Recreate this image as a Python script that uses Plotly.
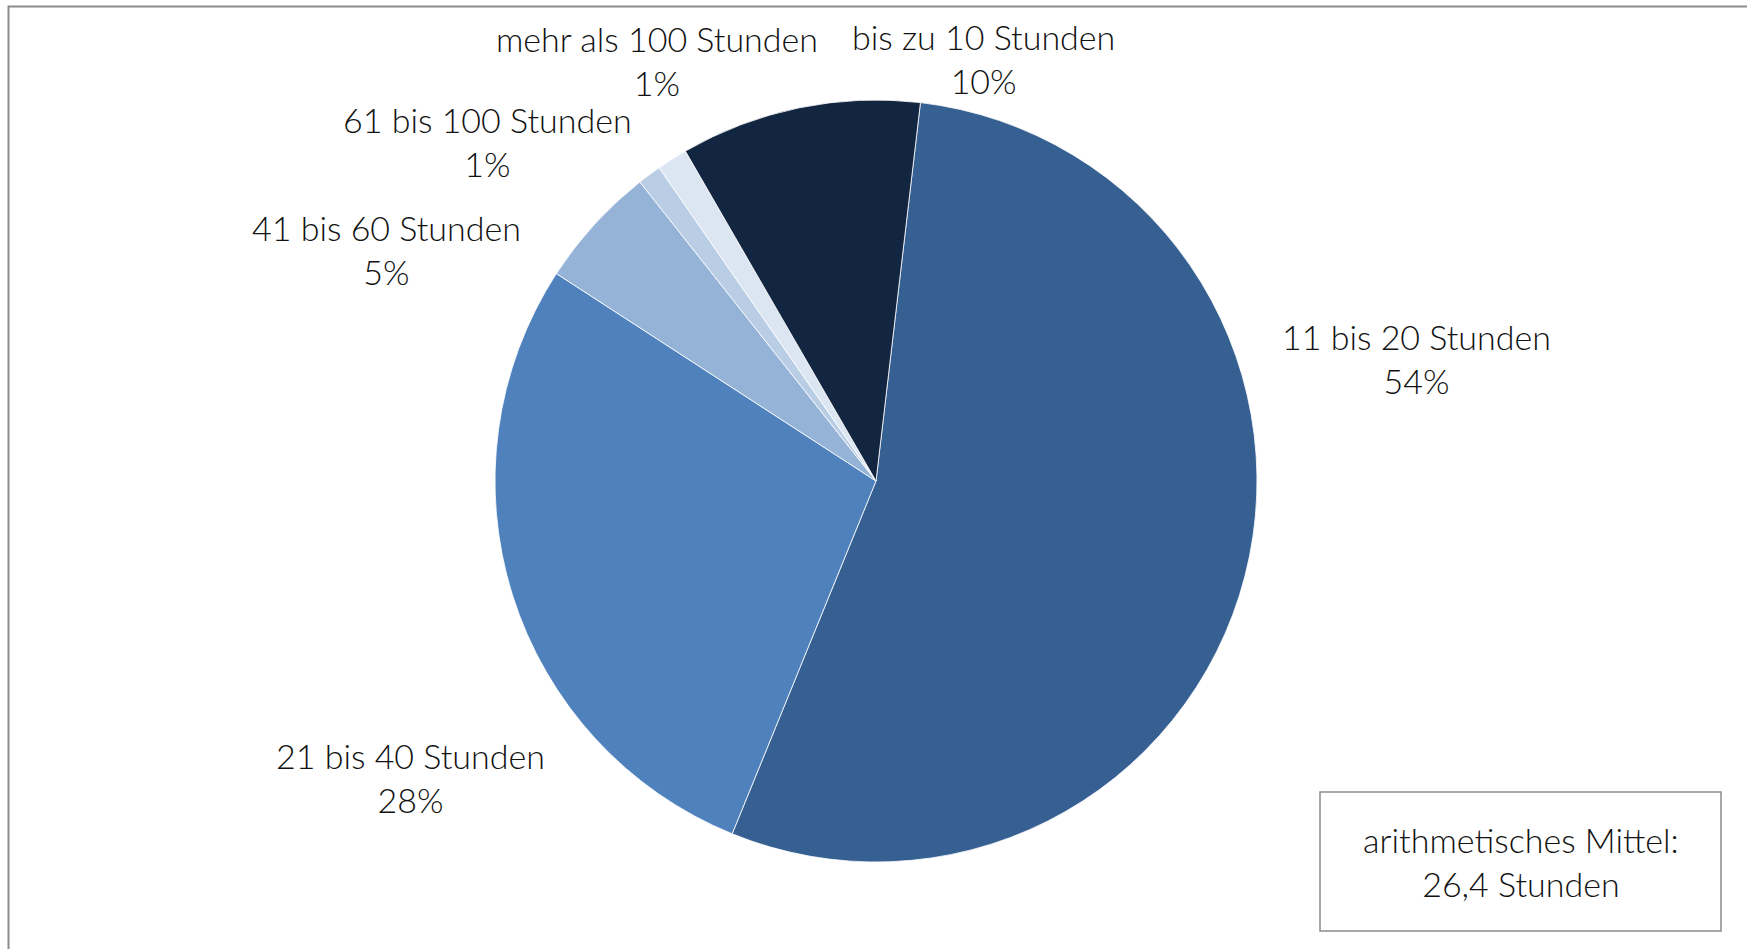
import plotly.graph_objects as go

# Verteilung der Stunden (Anteile in Prozent)
categories = ["11 bis 20 Stunden", "21 bis 40 Stunden", "41 bis 60 Stunden",
              "61 bis 100 Stunden", "mehr als 100 Stunden", "bis zu 10 Stunden"]
shares = [54.3, 28.0, 5.2, 1.0, 1.3, 10.2]
colors = ["#376092", "#4f81bd", "#95b3d7", "#b9cde5", "#dce6f2", "#122541"]
mean_text = "arithmetisches Mittel:<br>26,4 Stunden"

W, H = 1747, 949
FONT = "Lato"
FSIZE = 34

# label anchor positions in pixels (centre of the two-line label)
label_pos = {
    "11 bis 20 Stunden": (1416, 358),
    "21 bis 40 Stunden": (410, 777),
    "41 bis 60 Stunden": (386, 249),
    "61 bis 100 Stunden": (487, 142),
    "mehr als 100 Stunden": (657, 61),
    "bis zu 10 Stunden": (983, 58),
}

cx, cy, r = 876, 481, 381

fig = go.Figure(go.Pie(
    labels=categories,
    values=shares,
    sort=False,
    direction="clockwise",
    rotation=6.7,
    marker=dict(colors=colors, line=dict(color="white", width=0.8)),
    textinfo="none",
    hoverinfo="label+percent",
    showlegend=False,
    domain=dict(x=[(cx - r) / W, (cx + r) / W],
                y=[1 - (cy + r) / H, 1 - (cy - r) / H]),
))

total = sum(shares)
label_font = dict(family=FONT, size=FSIZE, color="#111111", weight=300)
annotations = []
for cat, v in zip(categories, shares):
    px, py = label_pos[cat]
    annotations.append(dict(
        x=px / W, y=1 - py / H, xref="paper", yref="paper",
        text=f"{cat}<br>{round(v / total * 100)}%",
        showarrow=False, xanchor="center", yanchor="middle",
        font=label_font,
    ))

# mean box
bx0, by0, bx1, by1 = 1320, 792, 1721, 931
annotations.append(dict(
    x=(bx0 + bx1) / 2 / W, y=1 - (by0 + by1) / 2 / H, xref="paper", yref="paper",
    text=mean_text, showarrow=False, xanchor="center", yanchor="middle",
    font=label_font,
))

shapes = [
    # outer frame
    dict(type="rect", xref="paper", yref="paper",
         x0=8.5 / W, x1=1.02, y0=-0.02, y1=1 - 6.5 / H,
         line=dict(color="#8c8c8c", width=2), fillcolor="rgba(0,0,0,0)"),
    dict(type="rect", xref="paper", yref="paper",
         x0=bx0 / W, x1=bx1 / W, y0=1 - by1 / H, y1=1 - by0 / H,
         line=dict(color="#8c8c8c", width=1.5), fillcolor="white"),
]

fig.update_layout(
    width=W, height=H,
    margin=dict(l=0, r=0, t=0, b=0),
    paper_bgcolor="white", plot_bgcolor="white",
    annotations=annotations, shapes=shapes,
    font=dict(family=FONT),
)

fig.write_html("out.html", include_plotlyjs=True, config={"displayModeBar": False})
